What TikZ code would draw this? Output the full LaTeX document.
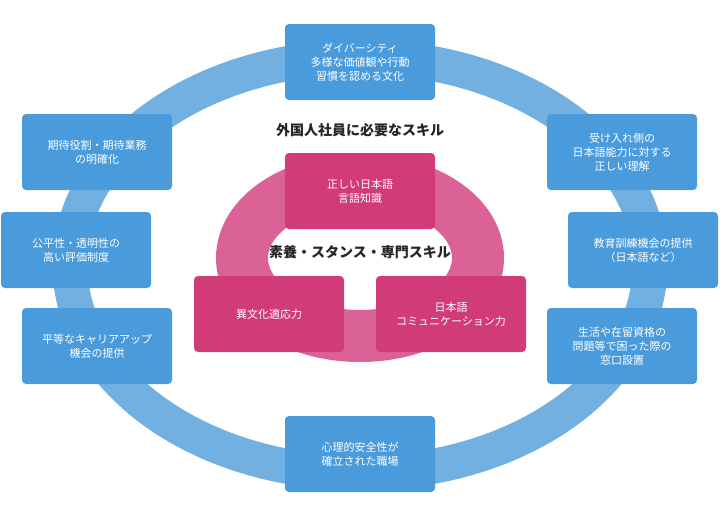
\documentclass[tikz,border=0pt]{standalone}
\usepackage{fontspec}
\setmainfont{Noto Sans CJK JP}
\usepackage{tikz}
\usetikzlibrary{positioning}
\definecolor{ringblue}{HTML}{72B0E2}
\definecolor{boxblue}{HTML}{4A9BDB}
\definecolor{ringpink}{HTML}{DB6296}
\definecolor{boxpink}{HTML}{D03B78}
\begin{document}
\begin{tikzpicture}[x=1pt,y=-1pt]
    \tikzstyle{bbox} = [fill=boxblue, rounded corners=4pt, minimum width=150pt, minimum height=76pt, align=center, text=white, font=\fontsize{11}{14}\selectfont]
    \tikzstyle{pbox} = [bbox, fill=boxpink]
    \tikzstyle{title} = [font=\fontsize{14}{16}\selectfont\bfseries, text=black!85]
    \useasboundingbox (0,0) rectangle (720,520);
    \draw[ringblue, line width=35pt] (360,265) ellipse [x radius=290, y radius=208];
    \draw[ringpink, line width=52pt] (360,258) ellipse [x radius=118, y radius=78];

    \node[bbox] (div) at (360,62) {ダイバーシティ\\多様な価値観や行動\\習慣を認める文化};
    \node[bbox] (role) at (97,152) {期待役割・期待業務\\の明確化};
    \node[bbox] (eval) at (76,250) {公平性・透明性の\\高い評価制度};
    \node[bbox] (career) at (97,346) {平等なキャリアアップ\\機会の提供};
    \node[bbox] (safe) at (360,454) {心理的安全性が\\確立された職場};
    \node[bbox] (lang) at (622,152) {受け入れ側の\\日本語能力に対する\\正しい理解};
    \node[bbox] (edu) at (643,250) {教育訓練機会の提供\\（日本語など）};
    \node[bbox] (desk) at (622,346) {生活や在留資格の\\問題等で困った際の\\窓口設置};

    \node[pbox] (know) at (360,191) {正しい日本語\\言語知識};
    \node[pbox] (cult) at (269,314) {異文化適応力};
    \node[pbox] (comm) at (451,314) {日本語\\コミュニケーション力};

    \node[title] (outer) at (360,130) {外国人社員に必要なスキル};
    \node[title] (inner) at (360,252) {素養・スタンス・専門スキル};
\end{tikzpicture}
\end{document}
